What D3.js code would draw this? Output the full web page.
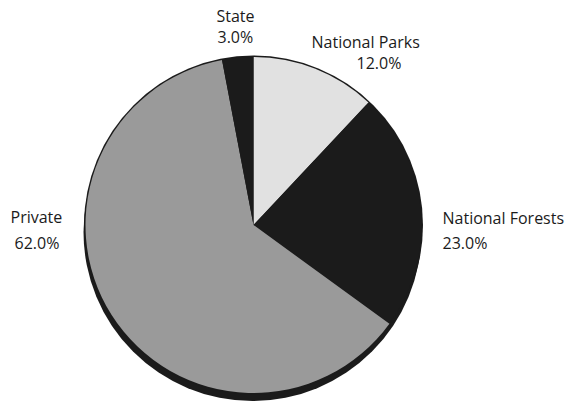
<!DOCTYPE html>
<html><head><meta charset="utf-8">
<script src="https://cdn.jsdelivr.net/npm/d3@7"></script>
<style>html,body{margin:0;padding:0;background:#fff;}svg{display:block;}</style>
</head><body>
<svg id="chart" width="573" height="404"></svg>
<script>
const categories = ["National Parks", "National Forests", "Private", "State"];
const values = [12.0, 23.0, 62.0, 3.0];
const colors = ["#e1e1e1", "#1b1b1b", "#9a9a9a", "#1b1b1b"];
const valueLabels = ["12.0%", "23.0%", "62.0%", "3.0%"];

const svg = d3.select("#chart");
const cx = 253.5, cy = 225, R = 168;
const g = svg.append("g").attr("transform", `translate(${cx},${cy})`);

const pie = d3.pie().sort(null).value(d => d.v);
const arcs = pie(categories.map((c, i) => ({c, v: values[i], col: colors[i], lab: valueLabels[i]})));
const arc = d3.arc().innerRadius(0).outerRadius(R);

// shadow
g.append("circle").attr("cx", -1).attr("cy", 7).attr("r", R + 1).attr("fill", "#1b1b1b");
g.append("circle").attr("r", R + 1.5).attr("fill", "#1b1b1b");

g.selectAll("path.slice").data(arcs).enter().append("path")
  .attr("class", "slice")
  .attr("d", arc)
  .attr("fill", d => d.data.col);

// label layout: offsets from pie centre (name line / value line, anchor)
const labelLayout = {
  "National Parks": {x: 58, y: -177, vx: 103, vy: -156, anchor: "start"},
  "National Forests": {x: 189, y: -1, vx: 189, vy: 24, anchor: "start"},
  "Private": {x: -243, y: -2, vx: -239, vy: 24, anchor: "start"},
  "State": {x: -37, y: -203, vx: -36, vy: -182, anchor: "start"}
};
const lg = g.append("g").attr("font-family", "'Open Sans', sans-serif").attr("font-size", 16).attr("fill", "#1b1b1b");
arcs.forEach(d => {
  const L = labelLayout[d.data.c];
  lg.append("text").attr("x", L.x).attr("y", L.y).attr("text-anchor", L.anchor).text(d.data.c);
  lg.append("text").attr("x", L.vx).attr("y", L.vy).attr("text-anchor", L.anchor).text(d.data.lab);
});
</script>
</body></html>
